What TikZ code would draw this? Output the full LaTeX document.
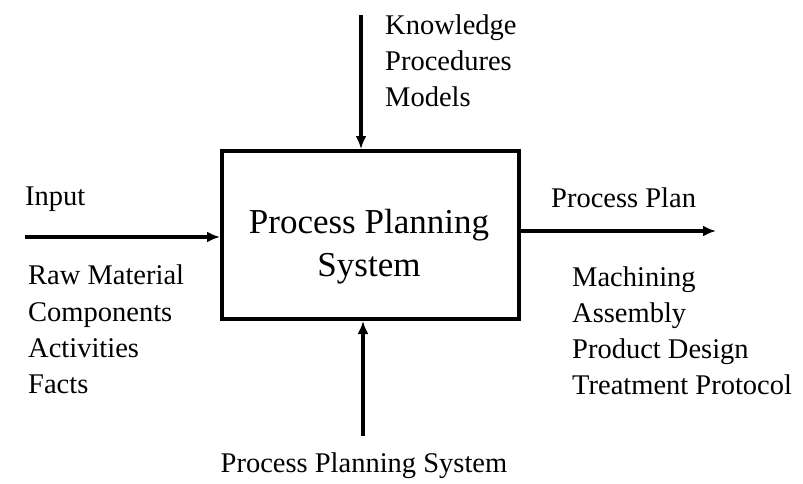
\documentclass[tikz,border=0pt]{standalone}
\usepackage{fontspec}
\setmainfont{Liberation Serif}
\usetikzlibrary{arrows.meta}
\tikzset{
  lbl/.style={anchor=base west, inner sep=0pt, font=\fontsize{28.5}{34}\selectfont},
  lblc/.style={anchor=base, inner sep=0pt, font=\fontsize{28.5}{34}\selectfont},
  boxtxt/.style={anchor=base, inner sep=0pt, font=\fontsize{35}{42}\selectfont},
  flow/.style={line width=3.2pt, -{Latex[length=13pt,width=11pt]}},
  sysbox/.style={draw, line width=4pt, minimum width=297pt, minimum height=168pt, inner sep=0pt}
}
\begin{document}
\begin{tikzpicture}[x=1pt,y=-1pt]
\useasboundingbox (0,0) rectangle (803,483);
\node[sysbox] (box) at (370.5,235) {};
\node[boxtxt] (bt1) at (369,233) {Process Planning};
\node[boxtxt] (bt2) at (369,276) {System};
% top
\coordinate (topstart) at (361,15);
\draw[flow] (topstart) -- (topstart |- box.north);
\node[lbl] (k1) at (385,34) {Knowledge};
\node[lbl] (k2) at (385,70) {Procedures};
\node[lbl] (k3) at (385,106) {Models};
% left
\coordinate (instart) at (25,237);
\draw[flow] (instart) -- (instart -| box.west);
\node[lbl] (inp) at (25,205) {Input};
\node[lbl] (i1) at (28,284) {Raw Material};
\node[lbl] (i2) at (28,321) {Components};
\node[lbl] (i3) at (28,357) {Activities};
\node[lbl] (i4) at (28,393) {Facts};
% right
\coordinate (outend) at (716,231);
\draw[flow] (outend -| box.east) -- (outend);
\node[lbl] (pp) at (551,207) {Process Plan};
\node[lbl] (o1) at (572,286) {Machining};
\node[lbl] (o2) at (572,322) {Assembly};
\node[lbl] (o3) at (572,358) {Product Design};
\node[lbl] (o4) at (572,394) {Treatment Protocol};
% bottom
\coordinate (botstart) at (363,436);
\draw[flow] (botstart) -- (botstart |- box.south);
\node[lblc] (bl) at (364,472) {Process Planning System};
\end{tikzpicture}
\end{document}
